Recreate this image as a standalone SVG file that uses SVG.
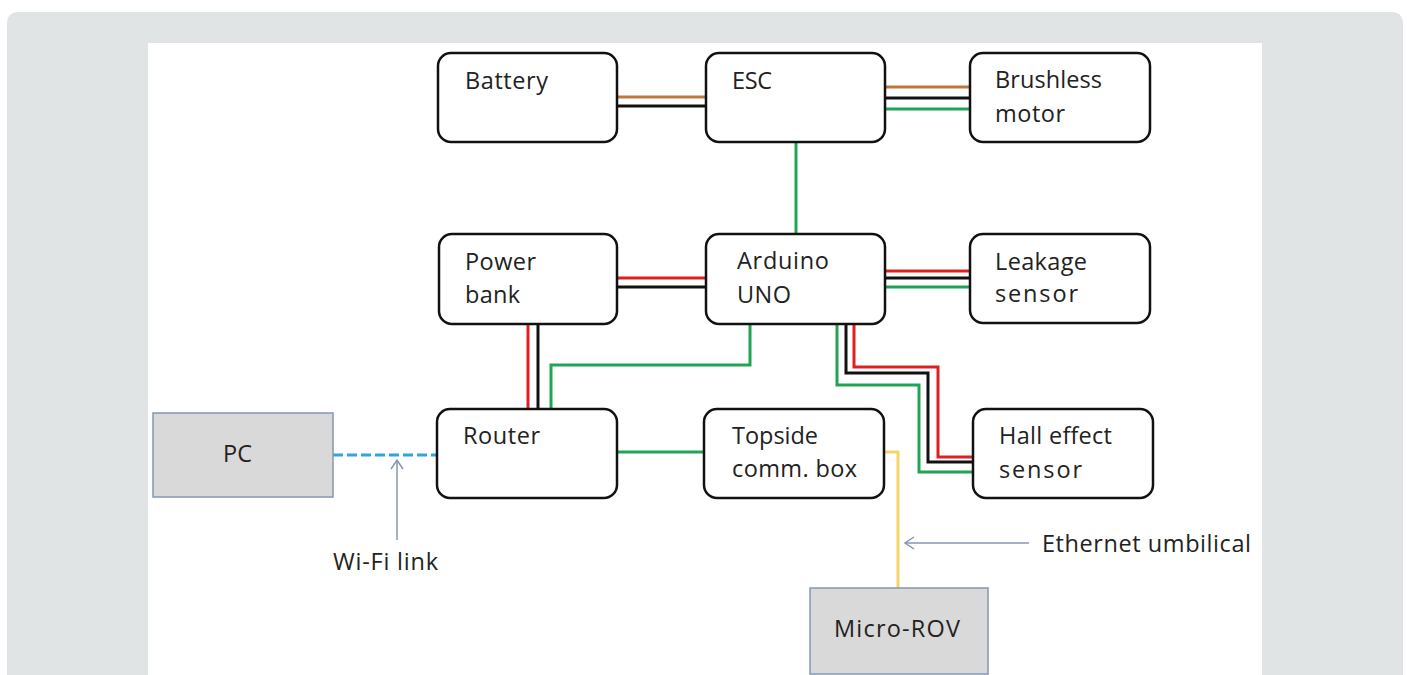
<svg xmlns="http://www.w3.org/2000/svg" width="1407" height="675" viewBox="0 0 1407 675">
<style>
.box{fill:#fff;stroke:#111;stroke-width:2.5}
.gbox{fill:#d9d9d9;stroke:#8497b0;stroke-width:1.5}
.t{font-family:"Open Sans","Liberation Sans",Arial,sans-serif;font-size:23.5px;fill:#222}
.w{fill:none;stroke-width:3}
.br{stroke:#c0773d}.bk{stroke:#111}.gr{stroke:#22a455}.rd{stroke:#e02020}
.ye{stroke:#f7d46a}
.ptr{fill:none;stroke:#8497b0;stroke-width:1.5}
</style>
<path d="M7 24 Q7 12 19 12 L1391 12 Q1403 12 1403 24 L1403 675 L7 675 Z" fill="#e1e4e5"/>
<rect x="148" y="43" width="1114" height="632" fill="#fff"/>
<g id="connectors">
<line class="w br" x1="617" y1="97" x2="706" y2="97"/>
<line class="w bk" x1="617" y1="106" x2="706" y2="106"/>
<line class="w br" x1="885" y1="87" x2="970" y2="87"/>
<line class="w bk" x1="885" y1="98" x2="970" y2="98"/>
<line class="w gr" x1="885" y1="109" x2="970" y2="109"/>
<line class="w gr" x1="796" y1="142" x2="796" y2="234"/>
<line class="w rd" x1="617" y1="278" x2="706" y2="278"/>
<line class="w bk" x1="617" y1="287" x2="706" y2="287"/>
<line class="w rd" x1="885" y1="271" x2="970" y2="271"/>
<line class="w bk" x1="885" y1="278" x2="970" y2="278"/>
<line class="w gr" x1="885" y1="287" x2="970" y2="287"/>
<line class="w rd" x1="528" y1="324" x2="528" y2="409"/>
<line class="w bk" x1="538" y1="324" x2="538" y2="409"/>
<polyline class="w gr" points="750,324 750,365 551,365 551,409"/>
<polyline class="w gr" points="837,324 837,385 919,385 919,472 973,472"/>
<polyline class="w bk" points="846,324 846,373 928,373 928,462 973,462"/>
<polyline class="w rd" points="854,324 854,367 938,367 938,457 973,457"/>
<line class="w gr" x1="617" y1="452" x2="704" y2="452"/>
<polyline class="w ye" points="884,452 898,452 898,588"/>
<line x1="333" y1="455" x2="437" y2="455" stroke="#2ea6dc" stroke-width="3" stroke-dasharray="10 4"/>
<line class="ptr" x1="397" y1="540" x2="397" y2="460"/>
<polyline class="ptr" points="391,469 397,460 403,469"/>
<line class="ptr" x1="1029" y1="543" x2="905" y2="543"/>
<polyline class="ptr" points="914,537 905,543 914,549"/>
</g>
<g id="battery"><rect class="box" x="438" y="53" width="179" height="89" rx="13"/><text class="t" x="465" y="89" textLength="83">Battery</text></g>
<g id="esc"><rect class="box" x="706" y="53" width="179" height="89" rx="13"/><text class="t" x="732" y="89" textLength="40">ESC</text></g>
<g id="motor"><rect class="box" x="970" y="53" width="180" height="89" rx="13"/><text class="t" x="995" y="88" textLength="107">Brushless</text><text class="t" x="995" y="122" textLength="70">motor</text></g>
<g id="powerbank"><rect class="box" x="439" y="234" width="178" height="90" rx="13"/><text class="t" x="465" y="270" textLength="71">Power</text><text class="t" x="465" y="303" textLength="55">bank</text></g>
<g id="arduino"><rect class="box" x="706" y="234" width="179" height="90" rx="13"/><text class="t" x="737" y="269" textLength="92">Arduino</text><text class="t" x="737" y="303" textLength="54">UNO</text></g>
<g id="leakage"><rect class="box" x="970" y="234" width="180" height="89" rx="13"/><text class="t" x="995" y="270" textLength="92">Leakage</text><text class="t" x="995" y="302" textLength="83">sensor</text></g>
<g id="router"><rect class="box" x="437" y="409" width="180" height="89" rx="13"/><text class="t" x="463" y="444" textLength="77">Router</text></g>
<g id="topside"><rect class="box" x="704" y="409" width="180" height="89" rx="13"/><text class="t" x="732" y="444" textLength="86">Topside</text><text class="t" x="732" y="477" textLength="125">comm. box</text></g>
<g id="hall"><rect class="box" x="973" y="409" width="180" height="89" rx="13"/><text class="t" x="999" y="444" textLength="113">Hall effect</text><text class="t" x="999" y="478" textLength="83">sensor</text></g>
<g id="pc"><rect class="gbox" x="153" y="413" width="180" height="84"/><text class="t" x="223" y="462" textLength="29">PC</text></g>
<g id="microrov"><rect class="gbox" x="810" y="588" width="178" height="86"/><text class="t" x="834" y="637" textLength="126">Micro-ROV</text></g>
<g id="labels"><text class="t" x="333" y="570" textLength="105">Wi-Fi link</text><text class="t" x="1042" y="552" textLength="209">Ethernet umbilical</text></g>
</svg>
